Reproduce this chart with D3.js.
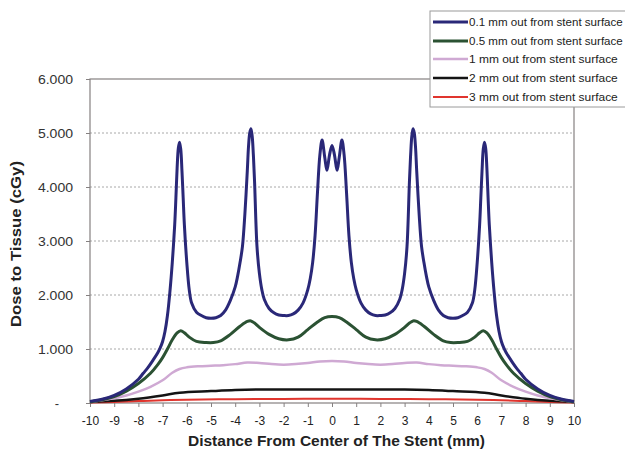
<!DOCTYPE html>
<html><head><meta charset="utf-8">
<script src="https://cdn.jsdelivr.net/npm/d3@7"></script>
<style>body{margin:0;background:#fff}svg{display:block;font-family:Arial,'Liberation Sans',sans-serif}</style>
</head><body>
<svg id="c" width="625" height="451"></svg>
<script>
// ---- data ----
const xTicks = [-10,-9,-8,-7,-6,-5,-4,-3,-2,-1,0,1,2,3,4,5,6,7,8,9,10];
const yTicks = [0,1,2,3,4,5,6];
const yTickLabels = ["-","1.000","2.000","3.000","4.000","5.000","6.000"];
const seriesNames = ["0.1 mm out from stent surface","0.5 mm out from stent surface","1 mm out from stent surface","2 mm out from stent surface","3 mm out from stent surface"];

const x01 = [-10,-9.5,-9,-8.5,-8,-7.8,-7.6,-7.4,-7.2,-7.1,-7.0,-6.9,-6.8,-6.7,-6.6,-6.5,-6.45,-6.4,-6.35,-6.3,-6.25,-6.2,-6.15,-6.1,-6.0,-5.9,-5.8,-5.6,-5.4,-5.2,-5.0,-4.8,-4.6,-4.4,-4.2,-4.0,-3.9,-3.8,-3.7,-3.6,-3.5,-3.45,-3.4,-3.35,-3.3,-3.25,-3.2,-3.1,-3.0,-2.9,-2.8,-2.6,-2.4,-2.2,-2.0,-1.8,-1.6,-1.4,-1.2,-1.0,-0.9,-0.8,-0.7,-0.6,-0.5,-0.41,-0.3,-0.21,-0.1,0,
  0.1,0.21,0.3,0.41,0.5,0.6,0.7,0.8,0.9,1.0,1.2,1.4,1.6,1.8,2.0,2.2,2.4,2.6,2.8,2.9,3.0,3.1,3.2,3.25,3.3,3.35,3.4,3.45,3.5,3.6,3.7,3.8,3.9,4.0,4.2,4.4,4.6,4.8,5.0,5.2,5.4,5.6,5.8,5.9,6.0,6.1,6.15,6.2,6.25,6.3,6.35,6.4,6.45,6.5,6.6,6.7,6.8,6.9,7.0,7.1,7.2,7.4,7.6,7.8,8.0,8.5,9.0,9.5,10];
const y01 = [0.03,0.07,0.14,0.26,0.44,0.55,0.66,0.79,0.93,1.02,1.14,1.33,1.62,2.05,2.6,3.3,3.8,4.35,4.72,4.83,4.7,4.3,3.8,3.3,2.6,2.1,1.85,1.68,1.62,1.58,1.57,1.58,1.62,1.72,1.9,2.15,2.35,2.6,2.9,3.5,4.3,4.75,5.0,5.08,4.95,4.6,4.1,2.9,2.4,2.1,1.92,1.75,1.67,1.63,1.62,1.62,1.65,1.72,1.85,2.1,2.3,2.6,3.1,3.9,4.6,4.87,4.55,4.31,4.6,4.77,
  4.6,4.31,4.55,4.87,4.6,3.9,3.1,2.6,2.3,2.1,1.85,1.72,1.65,1.62,1.62,1.63,1.67,1.75,1.92,2.1,2.4,2.9,4.1,4.6,4.95,5.08,5.0,4.75,4.3,3.5,2.9,2.6,2.35,2.15,1.9,1.72,1.62,1.58,1.57,1.58,1.62,1.68,1.85,2.1,2.6,3.3,3.8,4.3,4.7,4.83,4.72,4.35,3.8,3.3,2.6,2.05,1.62,1.33,1.14,1.02,0.93,0.79,0.66,0.55,0.44,0.26,0.14,0.07,0.03];

const x05 = [-10,-9.5,-9,-8.5,-8,-7.5,-7.2,-7,-6.8,-6.6,-6.4,-6.25,-6.1,-5.9,-5.6,-5.2,-4.9,-4.6,-4.2,-3.8,-3.5,-3.35,-3.2,-3.0,-2.6,-2.2,-1.8,-1.4,-1.0,-0.6,-0.3,0,
  0.3,0.6,1.0,1.4,1.8,2.2,2.6,3.0,3.2,3.35,3.5,3.8,4.2,4.6,4.9,5.2,5.6,5.9,6.1,6.25,6.4,6.6,6.8,7,7.2,7.5,8,8.5,9,9.5,10];
const y05 = [0.02,0.06,0.12,0.22,0.36,0.55,0.71,0.84,1.0,1.17,1.3,1.34,1.3,1.22,1.14,1.12,1.12,1.15,1.27,1.42,1.51,1.52,1.48,1.4,1.27,1.19,1.17,1.22,1.36,1.5,1.58,1.6,
  1.58,1.5,1.36,1.22,1.17,1.19,1.27,1.4,1.48,1.52,1.51,1.42,1.27,1.15,1.12,1.12,1.14,1.22,1.3,1.34,1.3,1.17,1.0,0.84,0.71,0.55,0.36,0.22,0.12,0.06,0.02];

const x1 = [-10,-9.5,-9,-8.5,-8,-7.5,-7,-6.6,-6.3,-6.0,-5.5,-5.0,-4.5,-4.0,-3.5,-3.0,-2.5,-2.0,-1.5,-1.0,-0.5,0,
  0.5,1.0,1.5,2.0,2.5,3.0,3.5,4.0,4.5,5.0,5.5,6.0,6.3,6.6,7,7.5,8,8.5,9,9.5,10];
const y1 = [0.02,0.05,0.09,0.14,0.21,0.3,0.42,0.56,0.63,0.66,0.68,0.69,0.7,0.72,0.75,0.74,0.72,0.71,0.72,0.74,0.77,0.78,
  0.77,0.74,0.72,0.71,0.72,0.74,0.75,0.72,0.7,0.69,0.68,0.66,0.63,0.56,0.42,0.3,0.21,0.14,0.09,0.05,0.02];

const x2 = [-10,-9,-8,-7,-6.3,-5,-4,-3,-2,-1,0,1,2,3,4,5,6.3,7,8,9,10];
const y2 = [0.02,0.04,0.08,0.14,0.19,0.22,0.24,0.25,0.25,0.25,0.25,0.25,0.25,0.25,0.24,0.22,0.19,0.14,0.08,0.04,0.02];

const x3 = [-10,-9,-8,-7,-6,-4,-2,0,2,4,6,7,8,9,10];
const y3 = [0.01,0.02,0.035,0.05,0.06,0.07,0.075,0.08,0.075,0.07,0.06,0.05,0.035,0.02,0.01];

const colors = ["#2a2878","#2b5233","#cfa9d3","#141414","#e0352e"];
const widths = [3,3,2.5,2.5,2];

// ---- chart ----
const svg = d3.select("#c");
const L=90, R=574, T=79, B=403;
const x = d3.scaleLinear().domain([-10,10]).range([L,R]);
const y = d3.scaleLinear().domain([0,6]).range([B,T]);
const FF = "Arial,'Liberation Sans',sans-serif";

// gridlines
svg.append("g").selectAll("line").data(yTicks.filter(v=>v>0&&v<6)).join("line")
  .attr("x1",L).attr("x2",R).attr("y1",d=>y(d)).attr("y2",d=>y(d))
  .attr("stroke","#a8a8a8").attr("stroke-width",1).attr("stroke-dasharray","2,2");

// frame
svg.append("rect").attr("x",L).attr("y",T).attr("width",R-L).attr("height",B-T)
  .attr("fill","none").attr("stroke","#858080").attr("stroke-width",1.2);

// y axis
const yAxis = d3.axisLeft(y).tickValues(yTicks).tickSize(4).tickFormat((d,i)=>yTickLabels[i]);
const gy = svg.append("g").attr("transform",`translate(${L},0)`).call(yAxis);
gy.select(".domain").remove();
gy.selectAll(".tick line").attr("stroke","#858080");
gy.selectAll(".tick text").attr("font-size",13).attr("fill","#333").attr("x",0)
  .attr("font-family",FF)
  .attr("transform",(d,i)=> i===0 ? "translate(-31,0)" : "translate(-17,0) scale(1.08,1)");

// x axis
const xAxis = d3.axisBottom(x).tickValues(xTicks).tickSize(4).tickFormat(d=>String(d));
const gx = svg.append("g").attr("transform",`translate(0,${B})`).call(xAxis);
gx.select(".domain").remove();
gx.selectAll(".tick line").attr("stroke","#858080");
gx.selectAll(".tick text").attr("font-size",12).attr("fill","#222").attr("y",13.5)
  .attr("font-family",FF);

// titles
svg.append("text").attr("x",336.5).attr("y",446).attr("text-anchor","middle")
  .attr("font-size",14).attr("font-weight","bold").attr("fill","#222")
  .attr("textLength",297).attr("lengthAdjust","spacingAndGlyphs")
  .text("Distance From Center of The Stent (mm)");
svg.append("text").attr("transform","translate(21,244) rotate(-90)").attr("text-anchor","middle")
  .attr("font-size",14).attr("font-weight","bold").attr("fill","#222")
  .attr("textLength",166).attr("lengthAdjust","spacingAndGlyphs")
  .text("Dose to Tissue (cGy)");

// series
const xs=[x01,x05,x1,x2,x3], ys=[y01,y05,y1,y2,y3];
const line = d3.line().x(d=>x(d[0])).y(d=>y(d[1])).curve(d3.curveCatmullRom.alpha(0.5));
for (let s=4; s>=0; s--) {
  const pts = xs[s].map((v,i)=>[v, ys[s][i]]);
  svg.append("path").datum(pts).attr("d",line).attr("fill","none")
    .attr("stroke",colors[s]).attr("stroke-width",widths[s]).attr("stroke-linejoin","round");
}

// legend
const lg = svg.append("g");
lg.append("rect").attr("x",430).attr("y",11).attr("width",205).attr("height",96)
  .attr("fill","#fff").attr("stroke","#9a9a9a").attr("stroke-width",1);
const ly = [22,41,59,78,97];
const probe = lg.append("text").attr("font-size",11.5).text(seriesNames[2]);
const sx = 149 / probe.node().getComputedTextLength();
probe.remove();
seriesNames.forEach((n,i)=>{
  lg.append("line").attr("x1",433).attr("x2",468).attr("y1",ly[i]).attr("y2",ly[i])
    .attr("stroke",colors[i]).attr("stroke-width",widths[i]);
  const t = lg.append("text").attr("font-size",11.5).attr("fill","#222").text(n);
  const w = t.node().getComputedTextLength();
  const s = Math.min(sx, 154 / w);   // keep the longest entries inside the frame
  t.attr("transform",`translate(469,${ly[i]+4}) scale(${s},1)`);
});
</script>
</body></html>
